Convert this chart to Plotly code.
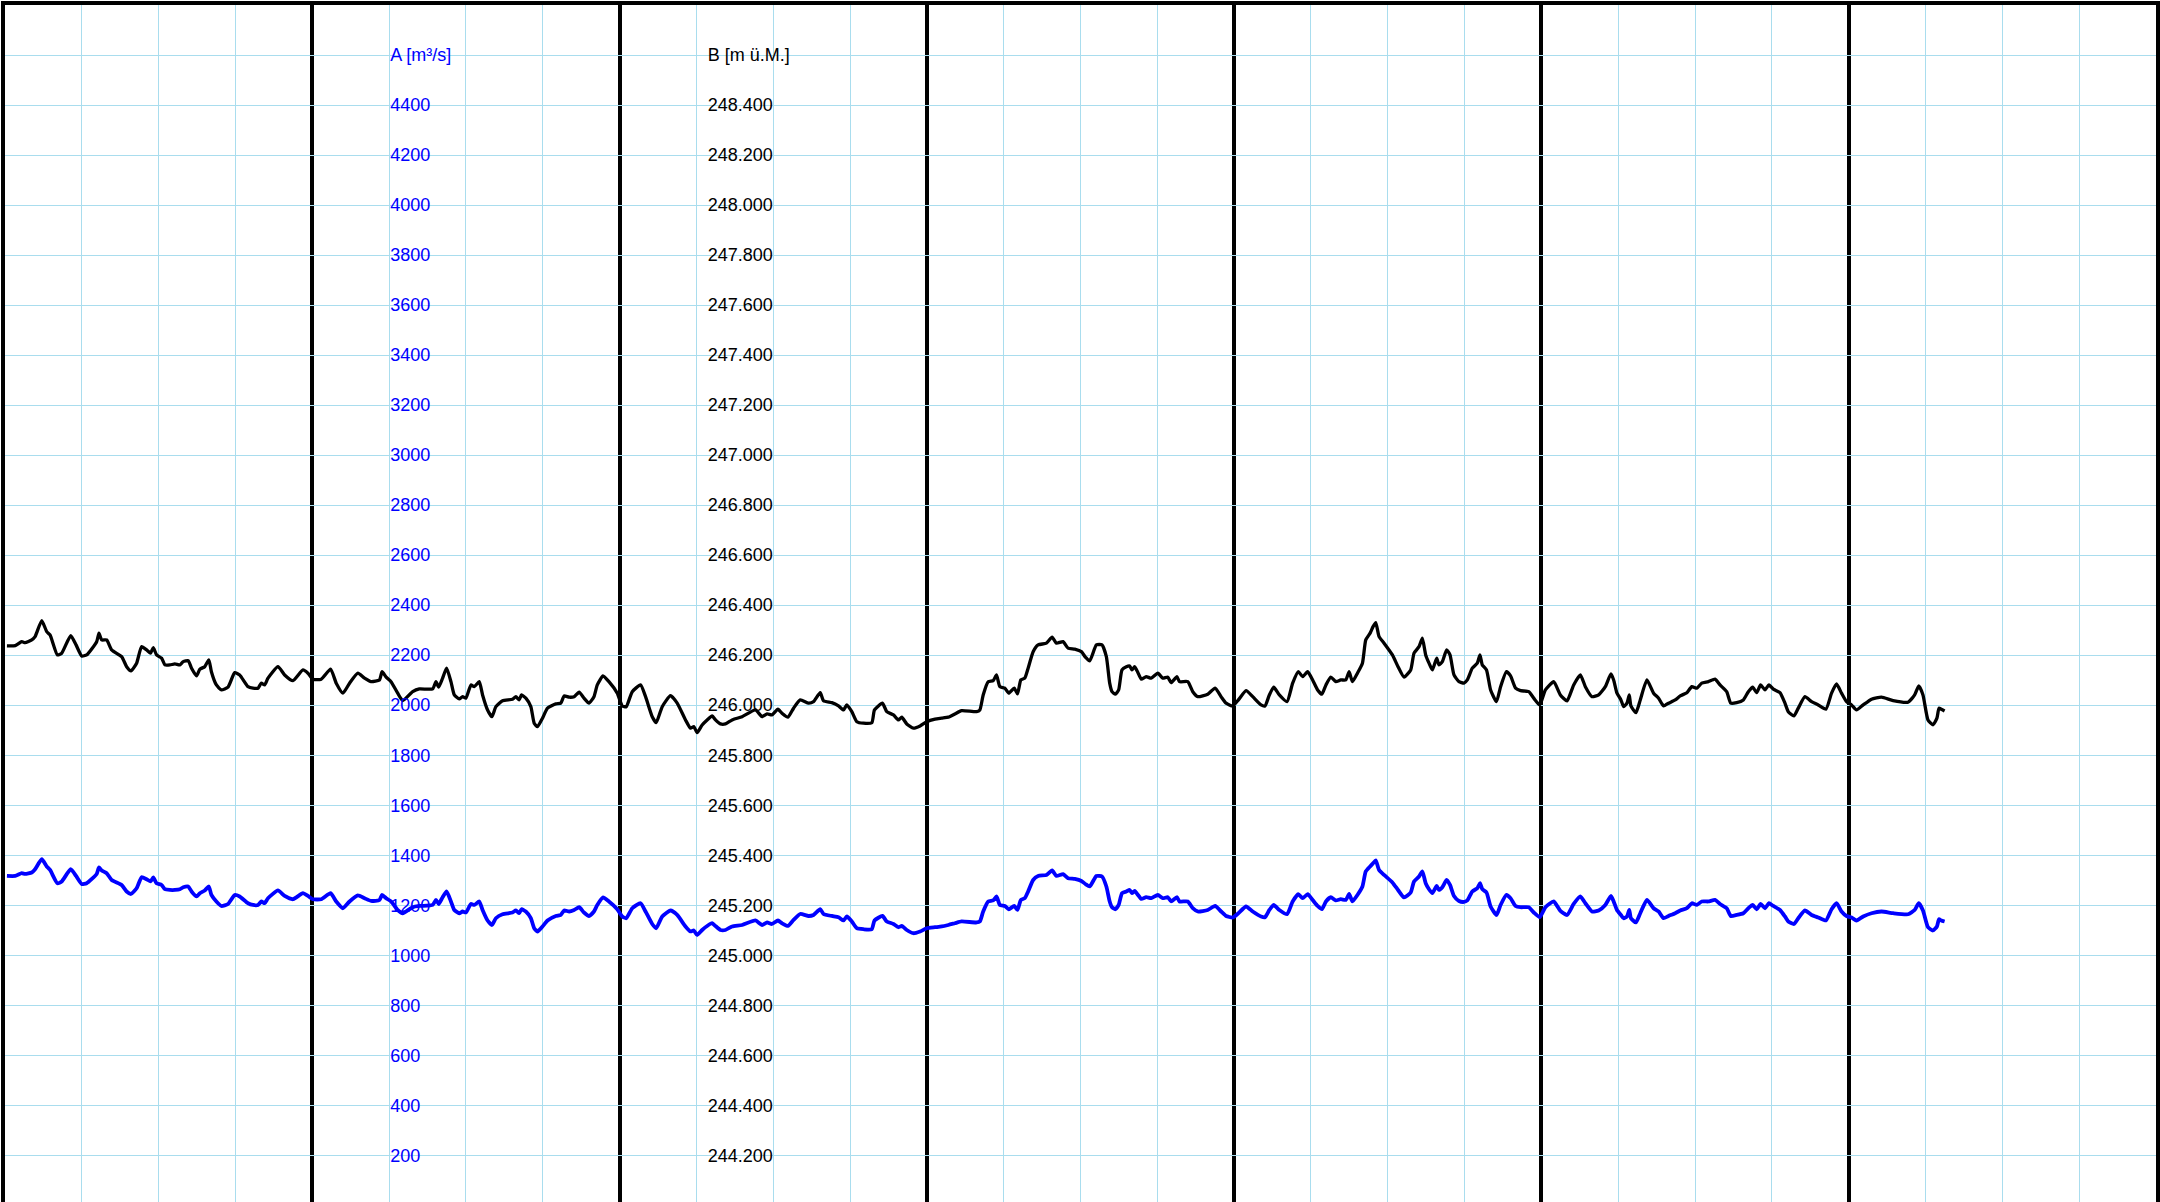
import pandas as pd
import plotly.graph_objects as go

# ---- data ---------------------------------------------------------------
start = pd.Timestamp("2021-07-12 00:00")
n_days = 7

# hours since start of the 7-day window
hours = [
    0.15, 0.80, 1.31, 1.57, 2.09, 2.35, 2.87, 3.26, 3.52, 4.09, 4.43, 5.13, 5.55, 5.99, 6.38, 7.16,
    7.34, 7.55, 7.94, 8.33, 9.11, 9.50, 9.84, 10.28, 10.67, 11.06, 11.37, 11.58, 11.84, 12.23, 12.49,
    12.88, 13.27, 13.66, 13.92, 14.31, 14.57, 14.96, 15.22, 15.60, 15.92, 16.12, 16.51, 16.90, 17.42,
    17.94, 18.33, 18.98, 19.37, 19.76, 20.02, 20.28, 20.54, 21.32, 21.84, 22.49, 23.27, 23.66, 24.05,
    24.70, 25.43, 25.87, 26.39, 26.91, 27.56, 28.08, 28.60, 29.25, 29.45, 29.77, 30.15, 30.67, 31.06,
    31.84, 32.36, 33.40, 33.66, 33.87, 34.18, 34.49, 34.83, 35.09, 35.48, 35.74, 36.00, 36.39, 36.65,
    37.04, 37.30, 37.69, 38.03, 38.34,
    38.86, 39.64, 39.90, 40.16, 40.34, 40.68, 41.07, 41.33, 41.59, 41.98, 42.37, 43.02, 43.41, 43.67,
    44.06, 44.45, 44.84, 45.22, 45.61, 46.00, 46.26, 46.71, 47.17, 47.82, 48.21, 48.52, 48.99, 49.64,
    50.03, 50.55, 50.86, 51.33, 51.98, 52.50, 53.15, 53.54, 53.80, 54.06, 54.45, 54.84, 55.23, 55.49,
    55.88, 56.27, 56.79, 57.57, 58.61, 59.13, 59.52, 59.90, 60.37, 60.68, 61.15, 61.59, 62.11, 62.76,
    63.15, 63.67, 63.93, 64.58, 65.10, 65.49, 65.75, 66.14, 66.53, 67.05, 67.70, 67.91, 68.53, 68.87,
    69.39, 69.78, 70.04, 70.43, 70.95, 71.47, 71.99, 72.64, 73.16, 73.68, 74.19, 74.71, 75.88,
    76.14, 76.40, 76.79, 77.18, 77.44, 77.70, 78.09, 78.40, 78.82, 79.08, 79.34, 79.65, 79.91, 80.30,
    80.69, 81.34, 81.78, 82.12, 82.64, 83.03, 83.55, 84.07, 84.38, 84.72, 85.24, 85.68, 86.02, 86.28,
    86.46, 86.72, 86.98, 87.24, 87.58, 87.84, 88.02, 88.23, 88.49, 88.75, 89.13, 89.52, 90.04, 90.43,
    90.82, 91.08, 91.53, 91.73, 92.38, 92.77, 93.16, 93.94, 94.51, 94.98, 95.37, 95.89, 96.33, 96.93,
    97.45, 98.10, 98.41, 98.75, 99.09, 99.53, 100.13, 100.57, 101.01, 101.35, 101.74, 102.13, 102.52,
    102.85, 103.17, 103.55, 103.94, 104.33, 104.72, 104.98, 105.24, 105.63, 106.02, 106.28, 106.62,
    106.85, 107.06, 107.32, 107.71, 108.36, 108.80, 109.27, 109.79, 110.05, 110.44, 110.70, 110.96,
    111.22, 111.48, 111.82, 112.00, 112.26, 112.60, 112.86, 113.17, 113.56, 113.95,
    114.21, 114.60, 114.99, 115.20, 115.38, 115.71, 116.03, 116.49, 116.81, 117.27, 117.59, 117.98,
    118.37, 119.01, 119.40, 119.87, 120.31, 120.96, 121.48, 122.00, 122.52, 123.04, 123.43, 123.95,
    124.47, 124.99, 125.43, 125.64, 125.90, 126.21, 126.42, 126.68, 126.86, 126.99, 127.38, 127.72,
    128.24, 128.76, 129.15, 129.54, 129.93, 130.45, 130.84, 131.36, 131.75, 132.14, 132.52, 133.04,
    133.56, 133.95, 134.47, 134.79, 135.25, 135.77, 136.16, 136.50, 136.81, 137.12, 137.46, 137.77,
    138.11, 138.63, 139.02, 139.28, 139.72, 140.06, 140.58, 141.10, 141.62, 142.22, 142.66, 143.05,
    143.44, 143.83, 144.22, 144.61, 145.13, 145.78, 146.56, 147.47, 148.63, 149.15, 149.47, 149.80,
    150.19, 150.58, 150.89, 151.05, 151.23, 151.49,
]

# series A: discharge [m3/s] (blue)
flow_a = [
    1317, 1317, 1328, 1325, 1331, 1344, 1384, 1355, 1341, 1288, 1295, 1344, 1317, 1285, 1288, 1325,
    1351, 1339, 1328, 1301, 1281, 1255, 1245, 1268, 1312, 1304, 1295, 1311, 1288, 1281, 1264,
    1261, 1261, 1264, 1272, 1275, 1255, 1235, 1248, 1259, 1275, 1241, 1215, 1197, 1205,
    1241, 1235, 1208, 1201, 1201, 1215, 1208, 1228, 1259, 1237, 1224, 1248, 1237, 1224,
    1224, 1248, 1215, 1188, 1215, 1239, 1228, 1217, 1221, 1241, 1228, 1215, 1181, 1168,
    1192, 1197, 1201, 1221, 1205, 1232, 1255, 1215, 1181, 1168, 1175, 1171, 1205, 1201,
    1215, 1181, 1139, 1121, 1148,
    1164, 1171, 1179, 1168, 1184, 1175, 1148, 1108, 1095, 1115, 1139, 1157, 1161, 1179,
    1175, 1181, 1192, 1171, 1157, 1175, 1201, 1231, 1215, 1184, 1155, 1148, 1188, 1208,
    1175, 1125, 1108, 1155, 1179, 1161, 1115, 1095, 1099, 1081, 1101, 1117, 1128, 1117,
    1101, 1101, 1115, 1121, 1139, 1121, 1131, 1125, 1139, 1128, 1117, 1141, 1165, 1157,
    1161, 1184, 1165, 1157, 1152, 1139, 1155, 1135, 1108, 1104, 1104, 1139, 1157, 1135,
    1125, 1112, 1117, 1101, 1088, 1095, 1108, 1112, 1115, 1121, 1128, 1135, 1131,
    1135, 1175, 1215, 1219, 1235, 1201, 1197, 1184, 1197, 1181, 1221, 1228, 1255, 1301,
    1317, 1321, 1339, 1317, 1324, 1308, 1305, 1297, 1285, 1275, 1317, 1315, 1275, 1215,
    1192, 1184, 1201, 1248, 1255, 1261, 1248, 1257, 1241, 1225, 1232, 1228, 1241, 1228,
    1232, 1215, 1232, 1215, 1215, 1188, 1175, 1181, 1197, 1175, 1157, 1151, 1168, 1195,
    1175, 1155, 1152, 1181, 1201, 1181, 1164, 1215, 1244, 1228, 1244, 1221, 1197,
    1184, 1215, 1232, 1219, 1224, 1221, 1245, 1215, 1241, 1275, 1335, 1355,
    1368, 1379, 1341, 1321, 1291, 1261, 1231, 1251, 1295, 1315, 1335, 1288,
    1264, 1248, 1277, 1261, 1272, 1301, 1281, 1237, 1217, 1213,
    1219, 1255, 1268, 1288, 1264, 1251, 1195, 1161, 1201, 1241, 1228, 1197,
    1192, 1192, 1171, 1152, 1192, 1215, 1177, 1161, 1205, 1235, 1208, 1175,
    1179, 1201, 1237, 1215, 1181, 1161, 1148, 1155, 1181, 1148, 1131, 1168,
    1221, 1188, 1175, 1148, 1157, 1168, 1179, 1188, 1208, 1201, 1215, 1215,
    1221, 1205, 1188, 1157, 1161, 1168, 1188, 1201, 1184, 1205, 1188, 1208,
    1197, 1181, 1155, 1135, 1125, 1148, 1179, 1161, 1151, 1139, 1184, 1208,
    1175, 1157, 1151, 1139, 1155, 1168, 1175, 1168, 1164, 1181, 1208, 1179,
    1112, 1099, 1115, 1144, 1139, 1135,
]

# series B: water level [m ue.M.] (black)
level_b = [
    246.237, 246.238, 246.254, 246.250, 246.261, 246.274, 246.338, 246.294, 246.281, 246.201, 246.208,
    246.278, 246.241, 246.197, 246.201, 246.254, 246.288, 246.261, 246.261, 246.221, 246.194, 246.154,
    246.137, 246.168, 246.234, 246.221, 246.208, 246.230, 246.201, 246.188, 246.161, 246.161, 246.165,
    246.161, 246.174, 246.178, 246.148, 246.117, 246.144, 246.154, 246.181, 246.134, 246.081, 246.061,
    246.072, 246.130, 246.121, 246.074, 246.068, 246.068, 246.088, 246.081, 246.108, 246.154, 246.121,
    246.098, 246.141, 246.128, 246.104, 246.104, 246.144, 246.088, 246.048, 246.088, 246.128, 246.108,
    246.094, 246.101, 246.134, 246.112, 246.094, 246.048, 246.018, 246.054, 246.065, 246.065, 246.094,
    246.072, 246.108, 246.148, 246.094, 246.041, 246.025, 246.034, 246.028, 246.081, 246.074, 246.094,
    246.041, 245.981, 245.954, 245.994,
    246.018, 246.024, 246.034, 246.021, 246.041, 246.028, 245.994, 245.928, 245.914, 245.948, 245.988,
    246.005, 246.008, 246.037, 246.032, 246.034, 246.052, 246.028, 246.008, 246.034, 246.081, 246.117,
    246.094, 246.048, 245.997, 245.994, 246.054, 246.081, 246.034, 245.954, 245.930, 245.994, 246.038,
    246.008, 245.941, 245.908, 245.914, 245.890, 245.921, 245.941, 245.957, 245.941, 245.925, 245.925,
    245.941, 245.954, 245.981, 245.954, 245.965, 245.961, 245.984, 245.968, 245.952, 245.988, 246.021,
    246.008, 246.014, 246.050, 246.018, 246.010, 245.997, 245.981, 246.001, 245.974, 245.934, 245.928,
    245.930, 245.981, 246.008, 245.974, 245.961, 245.941, 245.952, 245.925, 245.908, 245.917, 245.934,
    245.944, 245.948, 245.952, 245.965, 245.978, 245.974,
    245.981, 246.041, 246.094, 246.098, 246.121, 246.074, 246.068, 246.048, 246.068, 246.045, 246.101,
    246.108, 246.148, 246.214, 246.241, 246.248, 246.272, 246.248, 246.254, 246.228, 246.224, 246.214,
    246.192, 246.177, 246.241, 246.241, 246.194, 246.088, 246.054, 246.044, 246.061, 246.141, 246.154,
    246.157, 246.141, 246.154, 246.130, 246.104, 246.114, 246.108, 246.128, 246.108, 246.112, 246.090,
    246.114, 246.094, 246.094, 246.054, 246.034, 246.044, 246.068, 246.034, 246.008, 245.997, 246.021,
    246.058, 246.034, 246.001, 245.997, 246.041, 246.072, 246.041, 246.014, 246.088, 246.134, 246.114,
    246.134, 246.101, 246.061, 246.044, 246.081, 246.112, 246.094, 246.101, 246.101, 246.134, 246.094,
    246.128, 246.168, 246.261, 246.288, 246.314, 246.330, 246.274, 246.248, 246.201, 246.154, 246.112,
    246.141, 246.208, 246.234, 246.268, 246.201, 246.168, 246.141, 246.188, 246.161, 246.174, 246.221,
    246.201, 246.121, 246.094, 246.088,
    246.101, 246.148, 246.168, 246.201, 246.161, 246.141, 246.061, 246.014, 246.074, 246.134, 246.117,
    246.068, 246.058, 246.054, 246.028, 246.001, 246.061, 246.094, 246.041, 246.017, 246.081, 246.121,
    246.074, 246.034, 246.041, 246.074, 246.125, 246.101, 246.048, 246.021, 245.994, 246.008, 246.041,
    245.997, 245.970, 246.021, 246.101, 246.048, 246.028, 245.997, 246.008, 246.021, 246.037, 246.050,
    246.074, 246.068, 246.088, 246.094, 246.104, 246.081, 246.054, 246.008, 246.010, 246.021, 246.054,
    246.072, 246.050, 246.081, 246.061, 246.081, 246.064, 246.050, 246.008, 245.974, 245.957, 245.988,
    246.034, 246.014, 246.001, 245.984, 246.048, 246.085, 246.048, 246.014, 246.001, 245.981, 246.001,
    246.024, 246.032, 246.018, 246.012, 246.041, 246.077, 246.041, 245.941, 245.921, 245.948, 245.988,
    245.984, 245.977,
]

# axis tick values / labels
a_ticks = [200, 400, 600, 800, 1000, 1200, 1400, 1600, 1800, 2000, 2200,
           2400, 2600, 2800, 3000, 3200, 3400, 3600, 3800, 4000, 4200, 4400]
a_title = "A [m³/s]"
b_ticks = [244.2, 244.4, 244.6, 244.8, 245.0, 245.2, 245.4, 245.6, 245.8, 246.0, 246.2,
           246.4, 246.6, 246.8, 247.0, 247.2, 247.4, 247.6, 247.8, 248.0, 248.2, 248.4]
b_title = "B [m ü.M.]"

# ---- figure -------------------------------------------------------------
times = start + pd.to_timedelta(hours, unit="h")
end = start + pd.Timedelta(days=n_days)

A_RANGE = [13.2, 4800.0]
B_RANGE = [244.0 + A_RANGE[0] / 1000.0, 244.0 + A_RANGE[1] / 1000.0]

GRID = "#A9DDEE"
BLUE = "#0000FF"
FONT = "Liberation Sans, Arial, Helvetica, sans-serif"

W, H = 2160, 1202
ML, MR, MT, MB = 5, 0, 5, 0
plot_w = W - ML - MR


def xfrac(px):
    return (px - ML) / plot_w


fig = go.Figure()
fig.add_trace(go.Scatter(x=times, y=flow_a, mode="lines", yaxis="y",
                         line=dict(color=BLUE, width=3.8, shape="spline", smoothing=0.5),
                         name="A", hoverinfo="skip"))
fig.add_trace(go.Scatter(x=times, y=level_b, mode="lines", yaxis="y3",
                         line=dict(color="black", width=3.3, shape="spline", smoothing=0.5),
                         name="B", hoverinfo="skip"))
# helper so the A label axis is populated (single point, draws nothing)
fig.add_trace(go.Scatter(x=[times[0]], y=[flow_a[0]], mode="lines", yaxis="y2",
                         line=dict(color=BLUE, width=3.5), showlegend=False, hoverinfo="skip"))

label_axis = dict(
    overlaying="y", anchor="free", side="right",
    tickmode="array", ticks="", ticklen=0,
    showgrid=False, showline=False, zeroline=False,
)

fig.update_layout(
    width=W, height=H,
    margin=dict(l=ML, r=MR, t=MT, b=MB, pad=0),
    paper_bgcolor="white", plot_bgcolor="white",
    showlegend=False,
    font=dict(family=FONT, size=18, color="black"),
    xaxis=dict(
        type="date", range=[start, end], side="top",
        tick0=start, dtick=86400000,
        showgrid=True, gridcolor="black", gridwidth=4,
        showticklabels=False, ticks="",
        showline=True, linecolor="black", linewidth=4, mirror=False,
        zeroline=False,
        minor=dict(tick0=start, dtick=21600000, showgrid=True, gridcolor=GRID, gridwidth=1, ticks=""),
    ),
    yaxis=dict(
        range=A_RANGE, tickmode="linear", tick0=0, dtick=200,
        showgrid=True, gridcolor=GRID, gridwidth=1.3,
        showticklabels=False, ticks="",
        showline=True, linecolor="black", linewidth=4, mirror=True,
        zeroline=False,
    ),
    yaxis2=dict(
        label_axis, range=A_RANGE, position=xfrac(390),
        tickvals=a_ticks + [4600],
        ticktext=[str(v) for v in a_ticks] + [a_title],
        tickfont=dict(family=FONT, size=18, color=BLUE),
    ),
    yaxis3=dict(
        label_axis, range=B_RANGE, position=xfrac(708),
        tickvals=b_ticks + [248.6],
        ticktext=[f"{v:.3f}" for v in b_ticks] + [b_title],
        tickfont=dict(family=FONT, size=18, color="black"),
    ),
)

fig.write_html("out.html", config={"displayModeBar": False},
               post_script="document.body.style.margin='0';document.body.style.overflow='hidden';")
